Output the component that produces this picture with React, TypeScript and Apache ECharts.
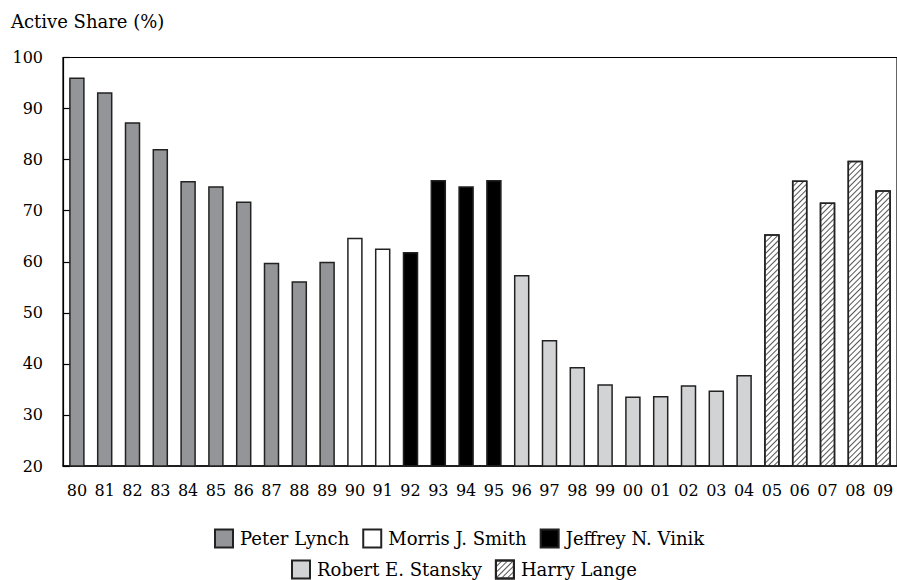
import React, { useEffect, useRef } from "react";
import * as echarts from "echarts";

const years = ["80","81","82","83","84","85","86","87","88","89","90","91","92","93","94","95","96","97","98","99","00","01","02","03","04","05","06","07","08","09"];
const activeShare = [96.1,93.2,87.3,82.1,75.8,74.8,71.8,59.8,56.2,60.0,64.7,62.6,61.9,76.0,74.8,76.0,57.4,44.7,39.4,36.0,33.6,33.7,35.8,34.8,37.8,65.4,75.9,71.6,79.8,74.0];
const managerOfYear = [0,0,0,0,0,0,0,0,0,0,1,1,2,2,2,2,3,3,3,3,3,3,3,3,3,4,4,4,4,4];
const managers = ["Peter Lynch","Morris J. Smith","Jeffrey N. Vinik","Robert E. Stansky","Harry Lange"];
const managerColors = ["#939598","#ffffff","#000000","#d1d3d4","#ffffff"];

const FONT = "DejaVu Serif";

export default function App() {
  const ref = useRef<HTMLDivElement>(null);
  useEffect(() => {
    if (!ref.current) return;
    const chart = echarts.init(ref.current, undefined, { renderer: "svg" });
    const series = managers.map((name, m) => {
      const item: any = {
        color: managerColors[m],
        borderColor: "#222",
        borderWidth: 1.5,
      };
      if (m === 4) {
        item.decal = {
          symbol: "rect",
          symbolSize: 1,
          color: "#555",
          dashArrayX: [1, 0],
          dashArrayY: [1, 3],
          rotation: -Math.PI / 4,
        };
      }
      return {
        name,
        type: "bar",
        barWidth: 15.5,
        barGap: "-100%",
        data: activeShare.map((v, i) => (managerOfYear[i] === m ? v : "-")),
        itemStyle: item,
      };
    });
    const legendText = { fontFamily: FONT, fontSize: 18, color: "#000", padding: [0, 0, 0, 2] };
    const legendBase = {
      padding: 0,
      itemWidth: 18,
      itemHeight: 18,
      itemGap: 13,
      icon: "rect",
      textStyle: legendText,
      selectedMode: false,
    };
    chart.setOption({
      animation: false,
      textStyle: { fontFamily: FONT },
      title: {
        text: "Active Share (%)",
        left: 11,
        top: 12,
        padding: 0,
        textStyle: { fontFamily: FONT, fontSize: 18, fontWeight: "normal", color: "#000" },
      },
      grid: {
        left: 63,
        top: 57.5,
        width: 837,
        height: 408.5,
        show: true,
        borderColor: "#000",
        borderWidth: 1.2,
        backgroundColor: "transparent",
      },
      legend: [
        { ...legendBase, data: managers.slice(0, 3), left: 214, top: 528.5 },
        { ...legendBase, data: managers.slice(3), left: 291, top: 559.5 },
      ],
      xAxis: {
        type: "category",
        data: years,
        axisLine: { lineStyle: { color: "#000", width: 1.5 } },
        axisTick: { show: false },
        axisLabel: { fontFamily: FONT, fontSize: 16, color: "#000", margin: 16, interval: 0 },
      },
      yAxis: {
        type: "value",
        min: 20,
        max: 100,
        interval: 10,
        axisLine: { show: true, lineStyle: { color: "#000", width: 1.2 } },
        axisTick: { show: true, inside: true, length: 7, lineStyle: { color: "#000", width: 1.2 } },
        splitLine: { show: false },
        axisLabel: { fontFamily: FONT, fontSize: 16, color: "#000", margin: 20 },
      },
      series,
    });
    return () => chart.dispose();
  }, []);
  return (
    <div
      ref={ref}
      style={{ position: "fixed", left: 0, top: 0, width: 897, height: 580, background: "#fff" }}
    />
  );
}
